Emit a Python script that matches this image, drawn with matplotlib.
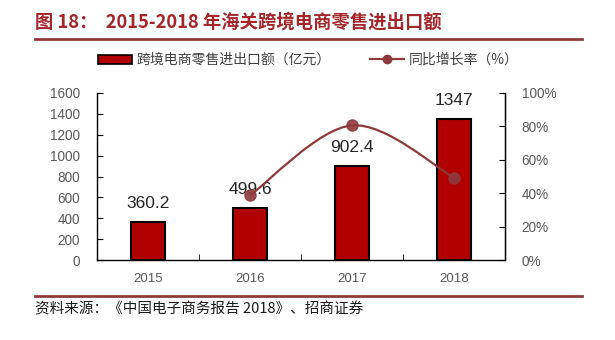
import matplotlib
matplotlib.use("Agg")
import matplotlib.pyplot as plt
from matplotlib.path import Path
from matplotlib.patches import PathPatch, Patch
from matplotlib.lines import Line2D
import numpy as np

plt.rcParams['font.family'] = ['Noto Sans CJK SC', 'DejaVu Sans']
NUM_FONT = ['Liberation Sans', 'DejaVu Sans']

years = ['2015', '2016', '2017', '2018']
amount = [360.2, 499.6, 902.4, 1347]
amount_labels = ['360.2', '499.6', '902.4', '1347']
growth = [38.7, 80.6, 49.3]   # %, for 2016-2018
growth_idx = [1, 2, 3]

title = '图 18：  2015-2018 年海关跨境电商零售进出口额'
source = '资料来源：《中国电子商务报告 2018》、招商证券'
bar_name = '跨境电商零售进出口额（亿元）'
line_name = '同比增长率（%）'

W, H = 615, 340
fig = plt.figure(figsize=(W/100, H/100), dpi=100)

bar_color = '#B00000'
line_color = '#8E3A3C'
title_color = '#A3272B'
tick_color = '#595959'

ax = fig.add_axes([97/W, 1-260/H, (505-97)/W, (260-93)/H])
x = np.arange(len(years))
ax.bar(x, amount, width=0.33, color=bar_color, edgecolor='black', linewidth=1.5, zorder=3)
for xi, v, lab in zip(x, amount, amount_labels):
    ax.annotate(lab, (xi, v), xytext=(0, 8), textcoords='offset points',
                ha='center', va='bottom', fontsize=12.5, color='#262626', zorder=5,
                family=NUM_FONT)
ax.set_xlim(-0.5, len(years)-0.5)
ax.set_ylim(0, 1600)
ax.set_yticks(range(0, 1601, 200))
ax.set_xticks(x)
ax.set_xticklabels(years)
ax.set_xticks(np.arange(-0.5, len(years), 1), minor=True)
ax.tick_params(axis='x', which='major', length=0, colors=tick_color, labelsize=9.5, pad=9)
ax.tick_params(axis='x', which='minor', direction='in', length=4, color='black')
ax.tick_params(axis='y', direction='in', length=4, colors=tick_color, labelsize=9.8, pad=12)
ax.tick_params(axis='y', color='black')
for lab in ax.get_xticklabels() + ax.get_yticklabels():
    lab.set_family(NUM_FONT)
ax.spines['top'].set_visible(False)
for s in ['left', 'right', 'bottom']:
    ax.spines[s].set_color('black')
    ax.spines[s].set_linewidth(1)

ax2 = ax.twinx()
ax2.set_ylim(0, 100)
ax2.set_yticks(range(0, 101, 20))
ax2.set_yticklabels([f'{v}%' for v in range(0, 101, 20)])
ax2.tick_params(axis='y', direction='in', length=4, colors=tick_color, labelsize=9.8, pad=12)
ax2.tick_params(axis='y', color='black')
for lab in ax2.get_yticklabels():
    lab.set_family(NUM_FONT)
ax2.spines['top'].set_visible(False)
ax2.spines['right'].set_color('black')
ax2.spines['left'].set_visible(False)
ax2.spines['bottom'].set_visible(False)

# smooth line (Catmull-Rom -> Bezier)
px = np.array(growth_idx, dtype=float)
py = np.array(growth, dtype=float)
pts = np.column_stack([px, py])
verts = [pts[0]]
codes = [Path.MOVETO]
n = len(pts)
for i in range(n-1):
    p0 = pts[i-1] if i > 0 else pts[i]
    p1 = pts[i]
    p2 = pts[i+1]
    p3 = pts[i+2] if i+2 < n else pts[i+1]
    c1 = p1 + (p2 - p0) / 6
    c2 = p2 - (p3 - p1) / 6
    verts += [c1, c2, p2]
    codes += [Path.CURVE4]*3
ax2.add_patch(PathPatch(Path(verts, codes), facecolor='none', edgecolor=line_color, lw=1.6, zorder=4))
ax2.plot(px, py, 'o', color=line_color, markersize=8, zorder=4, alpha=0.9)

# legend
handles = [Patch(facecolor=bar_color, edgecolor='black', linewidth=1.2),
           Line2D([0], [0], color=line_color, lw=1.6, marker='o', markersize=6)]
fig.legend(handles, [bar_name, line_name], loc='center', bbox_to_anchor=(308/W, 1-60/H),
           ncol=2, frameon=False, fontsize=10, handlelength=2.5, handleheight=0.6,
           columnspacing=2.8, handletextpad=0.3, labelcolor='#404040')

# title and rules
fig.text(35/W, 1-22/H, title, fontsize=13.2, fontweight='bold', color=title_color, va='center', ha='left')
fig.add_artist(Line2D([35/W, 582/W], [1-39/H, 1-39/H], color='#8E3A3C', lw=2))
fig.add_artist(Line2D([35/W, 582/W], [1-296/H, 1-296/H], color='#8E3A3C', lw=2))
fig.text(35/W, 1-309/H, source, fontsize=10.5, color='#1a1a1a', va='center', ha='left')

fig.savefig('out.png', dpi=100)
